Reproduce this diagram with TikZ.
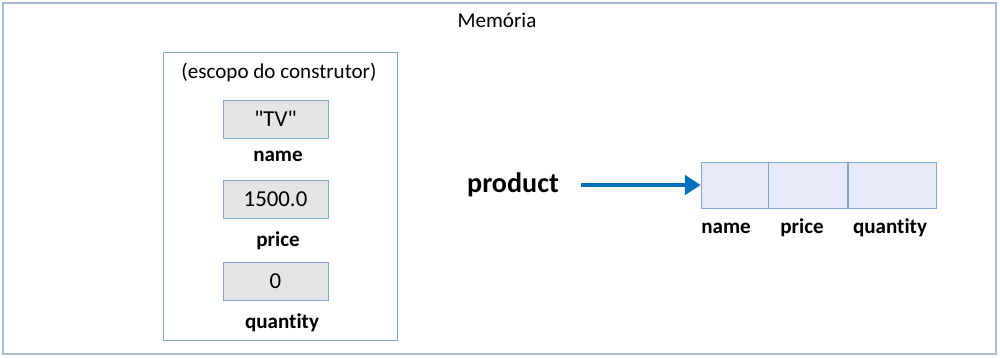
\documentclass[tikz,border=0pt]{standalone}
\usepackage{fontspec}
\setmainfont{Carlito}[Ligatures={TeXOff,NoCommon}]
\usetikzlibrary{arrows.meta,positioning}
\definecolor{FrameClr}{RGB}{165,188,212}
\definecolor{BoxClr}{RGB}{125,165,215}
\definecolor{ValClr}{RGB}{229,229,229}
\definecolor{CellClr}{RGB}{231,233,246}
\definecolor{ArrowClr}{RGB}{0,112,192}

\begin{document}
\begin{tikzpicture}[x=0.02cm,y=-0.02cm,
  val/.style={draw=BoxClr,fill=ValClr,minimum width=2.1cm,minimum height=0.76cm,
    font=\fontsize{13}{15}\selectfont},
  lbl/.style={font=\bfseries\fontsize{12}{14}\selectfont},
  cell/.style={draw=BoxClr,fill=CellClr,minimum height=0.92cm,inner sep=0pt}]
\useasboundingbox (0,0) rectangle (1000,358);

% memory frame
\draw[FrameClr,thick,fill=white] (3,3) rectangle (996,354);
\node[font=\fontsize{12}{14}\selectfont] (mem) at (497,20) {Memória};

% constructor scope
\node[draw=BoxClr,minimum width=4.68cm,minimum height=5.76cm] (escopo) at (280,196) {};
\node[font=\fontsize{12}{14}\selectfont] (titulo) at (279,72) {(escopo do construtor)};

\node[val] (vName) at (275.5,119) {"TV"};
\node[val] (vPrice) at (275.5,199) {1500.0};
\node[val] (vQty) at (275.5,281) {0};

\node[lbl] (lName) at (278,156) {name};
\node[lbl] (lPrice) at (278,241) {price};
\node[lbl] (lQty) at (282,323) {quantity};

% object on the heap
\node[font=\bfseries\fontsize{16}{18}\selectfont] (prod) at (513,185) {product};

\node[cell,minimum width=1.34cm] (c1) at (734.5,185) {};
\node[cell,minimum width=1.58cm,right=0pt of c1] (c2) {};
\node[cell,minimum width=1.76cm,right=0pt of c2] (c3) {};

\node[lbl] (lc1) at (726,228) {name};
\node[lbl] (lc2) at (802,228) {price};
\node[lbl] (lc3) at (890,228) {quantity};

\draw[ArrowClr,line width=2.8pt,-{Triangle[length=9pt,width=11pt]},shorten <=9pt]
  (prod) -- (c1.west);

\end{tikzpicture}
\end{document}
